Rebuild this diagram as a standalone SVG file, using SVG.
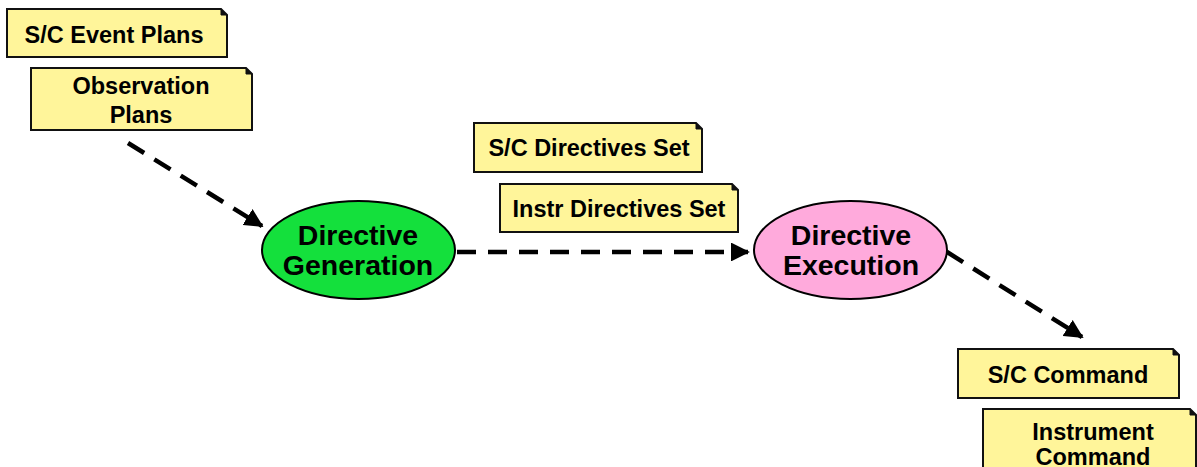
<svg xmlns="http://www.w3.org/2000/svg" width="1197" height="467" viewBox="0 0 1197 467">
<style>
.note{fill:#FFF59A;stroke:#111;stroke-width:2}
.fold{fill:#111;stroke:#111;stroke-width:1}
.nt{font-family:"Liberation Sans",Arial,sans-serif;font-weight:bold;font-size:23.5px;fill:#000;text-anchor:middle}
.et{font-family:"Liberation Sans",Arial,sans-serif;font-weight:bold;font-size:28.5px;fill:#000;text-anchor:middle}
.conn{fill:none;stroke:#000;stroke-width:4.5;stroke-dasharray:19 12}
</style>
<defs>
<marker id="ah" viewBox="0 0 10 10" refX="9" refY="5" markerWidth="4.2" markerHeight="4.2" orient="auto" markerUnits="strokeWidth">
<path d="M0,0 L10,5 L0,10 Z" fill="#000"/>
</marker>
</defs>
<rect width="1197" height="467" fill="#fff"/>
<g id="connectors">
<path class="conn" d="M128,143 L262,226" marker-end="url(#ah)"/>
<path class="conn" d="M457,252 L748,252" marker-end="url(#ah)"/>
<path class="conn" d="M947,252 L1082,337" marker-end="url(#ah)"/>
</g>
<g id="sc-event-plans">
<path class="note" d="M7,9 H221 L227,15 V57 H7 Z"/>
<path class="fold" d="M221,9 L227,15 L221,15 Z"/>
<text class="nt" x="114" y="43">S/C Event Plans</text>
</g>
<g id="observation-plans">
<path class="note" d="M31,68 H246 L252,74 V130 H31 Z"/>
<path class="fold" d="M246,68 L252,74 L246,74 Z"/>
<text class="nt" x="141" y="94">Observation</text>
<text class="nt" x="141" y="123">Plans</text>
</g>
<g id="sc-directives-set">
<path class="note" d="M474,123 H696 L702,129 V172 H474 Z"/>
<path class="fold" d="M696,123 L702,129 L696,129 Z"/>
<text class="nt" x="589" y="156">S/C Directives Set</text>
</g>
<g id="instr-directives-set">
<path class="note" d="M500,184 H732 L738,190 V232 H500 Z"/>
<path class="fold" d="M732,184 L738,190 L732,190 Z"/>
<text class="nt" x="619" y="217">Instr Directives Set</text>
</g>
<g id="directive-generation">
<ellipse cx="358.5" cy="250" rx="96.5" ry="49" fill="#14E03C" stroke="#000" stroke-width="2"/>
<text class="et" x="358" y="245">Directive</text>
<text class="et" x="358" y="275">Generation</text>
</g>
<g id="directive-execution">
<ellipse cx="850.5" cy="250" rx="96.5" ry="49" fill="#FFAADC" stroke="#000" stroke-width="2"/>
<text class="et" x="851" y="245">Directive</text>
<text class="et" x="851" y="275">Execution</text>
</g>
<g id="sc-command">
<path class="note" d="M958,349 H1173 L1179,355 V398 H958 Z"/>
<path class="fold" d="M1173,349 L1179,355 L1173,355 Z"/>
<text class="nt" x="1068" y="383">S/C Command</text>
</g>
<g id="instrument-command">
<path class="note" d="M983,409 H1190 L1196,415 V480 H983 Z"/>
<path class="fold" d="M1190,409 L1196,415 L1190,415 Z"/>
<text class="nt" x="1093" y="440">Instrument</text>
<text class="nt" x="1093" y="465">Command</text>
</g>
</svg>
